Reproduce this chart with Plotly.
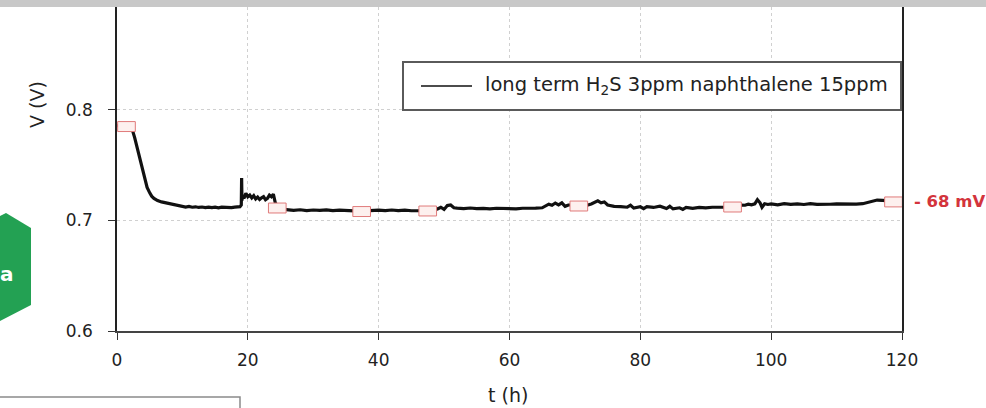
import plotly.graph_objects as go

# ---------------- data ----------------
t_h = [
    0.0, 0.4, 0.8, 1.0, 1.3, 1.7, 2.0, 2.3, 2.7, 3.1, 3.5, 3.9, 4.3, 4.6, 5.0, 5.3, 5.65, 6.2,
    6.8, 7.6,
    8.0, 8.5, 9.0, 9.5, 10.0, 10.5, 11.0, 11.5, 12.0, 12.5, 13.0, 13.5, 14.0, 14.5,
    15.0, 15.5, 16.0, 16.5, 17.0, 17.5, 18.0, 18.5,
    18.8, 19.0, 19.05, 19.1, 19.2, 19.4, 19.7, 20.0, 20.3, 20.6, 20.9, 21.2, 21.5, 21.8, 22.1,
    22.4, 22.7, 23.0, 23.3, 23.6, 23.9, 24.2, 24.6, 25.0, 25.5,
    26, 27, 28, 29, 30, 31, 32, 33, 34, 35, 36, 37, 38, 39, 40, 41, 42, 43, 44, 45, 46,
    47, 48, 49, 49.5, 50, 50.5, 51, 51.5, 52, 53, 54, 55, 56, 57, 58, 59, 60, 61, 62, 63, 64, 65,
    65.5, 66, 66.5, 67, 67.5, 68, 68.5, 69, 70, 71, 72, 72.5, 73, 73.5, 74, 74.5, 75, 75.5, 76,
    77, 78, 78.5, 79, 80, 80.5, 81, 82, 83, 84, 84.5, 85, 86, 86.5, 87, 88, 89, 90, 91, 92,
    93, 94, 95, 95.5, 96, 96.5, 97, 97.5, 97.9, 98.3, 98.6, 99, 99.5, 100, 101, 102, 103, 104,
    105, 106, 107, 108, 109, 110, 111, 112, 113, 114, 114.8, 115.5, 116.2, 117, 118, 119, 120,
]
v_volts = [
    0.785, 0.787, 0.782, 0.786, 0.787, 0.785, 0.786, 0.783, 0.775, 0.765, 0.755, 0.745, 0.736,
    0.730, 0.725, 0.722, 0.720, 0.718, 0.7168, 0.7158,
    0.7150, 0.7142, 0.7140, 0.7132, 0.7130, 0.7122, 0.7127, 0.7120,
    0.7124, 0.7118, 0.7122, 0.7117, 0.7121, 0.7116, 0.7120, 0.7115, 0.7121, 0.7118, 0.7122,
    0.7117, 0.7121, 0.7124,
    0.7125, 0.7140, 0.7385, 0.7180, 0.7230, 0.7200, 0.7245, 0.7215, 0.7230, 0.7205, 0.7225,
    0.7195, 0.7212, 0.7190, 0.7205, 0.7215, 0.7188, 0.7200, 0.7230, 0.7215, 0.7238, 0.7160,
    0.7125, 0.7110, 0.7100,
    0.7098, 0.7092, 0.7097, 0.7090, 0.7095, 0.7091, 0.7096, 0.7089, 0.7094, 0.7090, 0.7088,
    0.7085, 0.7087, 0.7090, 0.7094, 0.7089, 0.7095, 0.7090, 0.7093, 0.7088, 0.7090,
    0.7085, 0.7090, 0.7105, 0.7120, 0.7100, 0.7135, 0.7140, 0.7115, 0.7112, 0.7108, 0.7113,
    0.7107, 0.7110, 0.7106, 0.7111, 0.7107, 0.7110, 0.7106, 0.7111, 0.7108, 0.7112, 0.7115,
    0.7130, 0.7148, 0.7138, 0.7158, 0.7142, 0.7160, 0.7128, 0.7140, 0.7140, 0.7140, 0.7140,
    0.7150, 0.7165, 0.7178, 0.7160, 0.7168, 0.7140, 0.7132, 0.7128,
    0.7125, 0.7120, 0.7138, 0.7112, 0.7124, 0.7108, 0.7126, 0.7118, 0.7130, 0.7108, 0.7128,
    0.7105, 0.7115, 0.7100, 0.7118, 0.7110, 0.7118, 0.7115, 0.7120, 0.7118,
    0.7120, 0.7120, 0.7125, 0.7140, 0.7138, 0.7148, 0.7142, 0.7150, 0.7188, 0.7160, 0.7120,
    0.7152, 0.7145, 0.7150, 0.7142, 0.7152, 0.7146, 0.7150, 0.7145, 0.7152, 0.7146, 0.7150,
    0.7147, 0.7150, 0.7148, 0.7151, 0.7149, 0.7152, 0.7162, 0.7178, 0.7185, 0.7182, 0.7175,
    0.7175, 0.7175,
]
marker_t = [1.45, 24.5, 37.4, 47.5, 70.6, 94.1, 118.7]
marker_v = [0.7850, 0.7113, 0.7081, 0.7086, 0.7131, 0.7122, 0.7168]

x_ticks = [0, 20, 40, 60, 80, 100, 120]
y_ticks = [0.6, 0.7, 0.8]
series_name = "long term H<sub>2</sub>S 3ppm naphthalene 15ppm"
end_label = "- 68 mV"
x_title = "t (h)"
y_title = "V (V)"

# ---------------- layout geometry (pixels) ----------------
W, H = 986, 408
L, R, T, B = 117, 84, 7, 77
PW, PH = W - L - R, H - T - B


def px(x, y):
    """pixel position -> paper coordinates"""
    return (x - L) / PW, (H - B - y) / PH


FONT = "DejaVu Sans"

fig = go.Figure()
fig.add_trace(go.Scatter(
    x=t_h, y=v_volts, mode="lines", name=series_name,
    line=dict(color="#111111", width=3.2), showlegend=False,
))

shapes = []
# rectangular markers on the curve
MW, MH = 1.35, 0.0045
for t, v in zip(marker_t, marker_v):
    shapes.append(dict(type="rect", xref="x", yref="y", x0=t - MW, x1=t + MW,
                       y0=v - MH, y1=v + MH, line=dict(color="#e07a7a", width=1),
                       fillcolor="#fdf0ee", layer="above"))

# grey band at top
x0, y0 = px(0, 0)
x1, y1 = px(W, T)
shapes.append(dict(type="rect", xref="paper", yref="paper", x0=x0, x1=x1, y0=1, y1=y0,
                   line=dict(width=0), fillcolor="#c8c8c8"))

# legend box (manual)
lx0, ly0 = px(403, 110)
lx1, ly1 = px(901, 62)
shapes.append(dict(type="rect", xref="paper", yref="paper", x0=lx0, x1=lx1, y0=ly0, y1=ly1,
                   line=dict(color="#5a5a5a", width=2), fillcolor="white"))
sx0, sy = px(421, 86)
sx1, _ = px(472, 86)
shapes.append(dict(type="line", xref="paper", yref="paper", x0=sx0, x1=sx1, y0=sy, y1=sy,
                   line=dict(color="#111111", width=1.5)))

# green hexagon badge at left
pts = [(-2, 217), (6, 213), (31, 228), (31, 305), (-2, 322)]
path = "M " + " L ".join(f"{px(a, b)[0]:.5f},{px(a, b)[1]:.5f}" for a, b in pts) + " Z"
shapes.append(dict(type="path", xref="paper", yref="paper", path=path,
                   line=dict(width=0), fillcolor="#23a153"))

# partial box at bottom left
bx0, by0 = px(-4, 420)
bx1, by1 = px(240, 397)
shapes.append(dict(type="rect", xref="paper", yref="paper", x0=bx0, x1=bx1, y0=by0, y1=by1,
                   line=dict(color="#8a8a8a", width=1.5), fillcolor="white"))

annotations = []
ax_, ay_ = px(483, 86)
annotations.append(dict(xref="paper", yref="paper", x=ax_, y=ay_, xanchor="left",
                        yanchor="middle", text=series_name, showarrow=False,
                        font=dict(family=FONT, size=19.5, color="#222222")))
ex, ey = px(912, 201)
annotations.append(dict(xref="paper", yref="paper", x=ex, y=ey, xanchor="left",
                        yanchor="middle", text=f"<b>{end_label}</b>", showarrow=False,
                        font=dict(family=FONT, size=16.5, color="#d3343c")))
tx, ty = px(508, 395)
annotations.append(dict(xref="paper", yref="paper", x=tx, y=ty, xanchor="center",
                        yanchor="middle", text=x_title, showarrow=False,
                        font=dict(family=FONT, size=19, color="#222222")))
vx, vy = px(37, 105)
annotations.append(dict(xref="paper", yref="paper", x=vx, y=vy, xanchor="center",
                        yanchor="middle", text=y_title, showarrow=False, textangle=-90,
                        font=dict(family=FONT, size=19, color="#222222")))
gx, gy = px(7, 274)
annotations.append(dict(xref="paper", yref="paper", x=gx, y=gy, xanchor="center",
                        yanchor="middle", text="<b>a</b>", showarrow=False,
                        font=dict(family=FONT, size=20, color="white")))

fig.update_layout(
    width=W, height=H,
    margin=dict(l=L, r=R, t=T, b=B, autoexpand=False),
    paper_bgcolor="white", plot_bgcolor="white",
    shapes=shapes, annotations=annotations,
    font=dict(family=FONT, color="#222222"),
)
fig.update_xaxes(
    range=[0, 120], tickvals=x_ticks, ticks="outside", ticklen=7, tickwidth=1.2,
    tickcolor="#333333", showline=True, linecolor="#444444", linewidth=1.6, mirror=False,
    showgrid=True, gridcolor="#d0d0d0", griddash="dot", gridwidth=1, zeroline=False,
    tickfont=dict(family=FONT, size=17, color="#222222"), ticklabelstandoff=6,
)
fig.update_yaxes(
    range=[0.6, 0.8932], tickvals=y_ticks, tickformat=".1f", ticks="outside", ticklen=7,
    tickwidth=1.2, tickcolor="#333333", showline=True, linecolor="#222222", linewidth=1.6,
    mirror=True, showgrid=True, gridcolor="#d0d0d0", griddash="dot", gridwidth=1,
    zeroline=False, tickfont=dict(family=FONT, size=17, color="#222222"),
    ticklabelstandoff=12,
)

fig.write_html(
    "out.html",
    config={"displayModeBar": False},
    post_script="document.body.style.margin='0';document.body.style.overflow='hidden';",
)
